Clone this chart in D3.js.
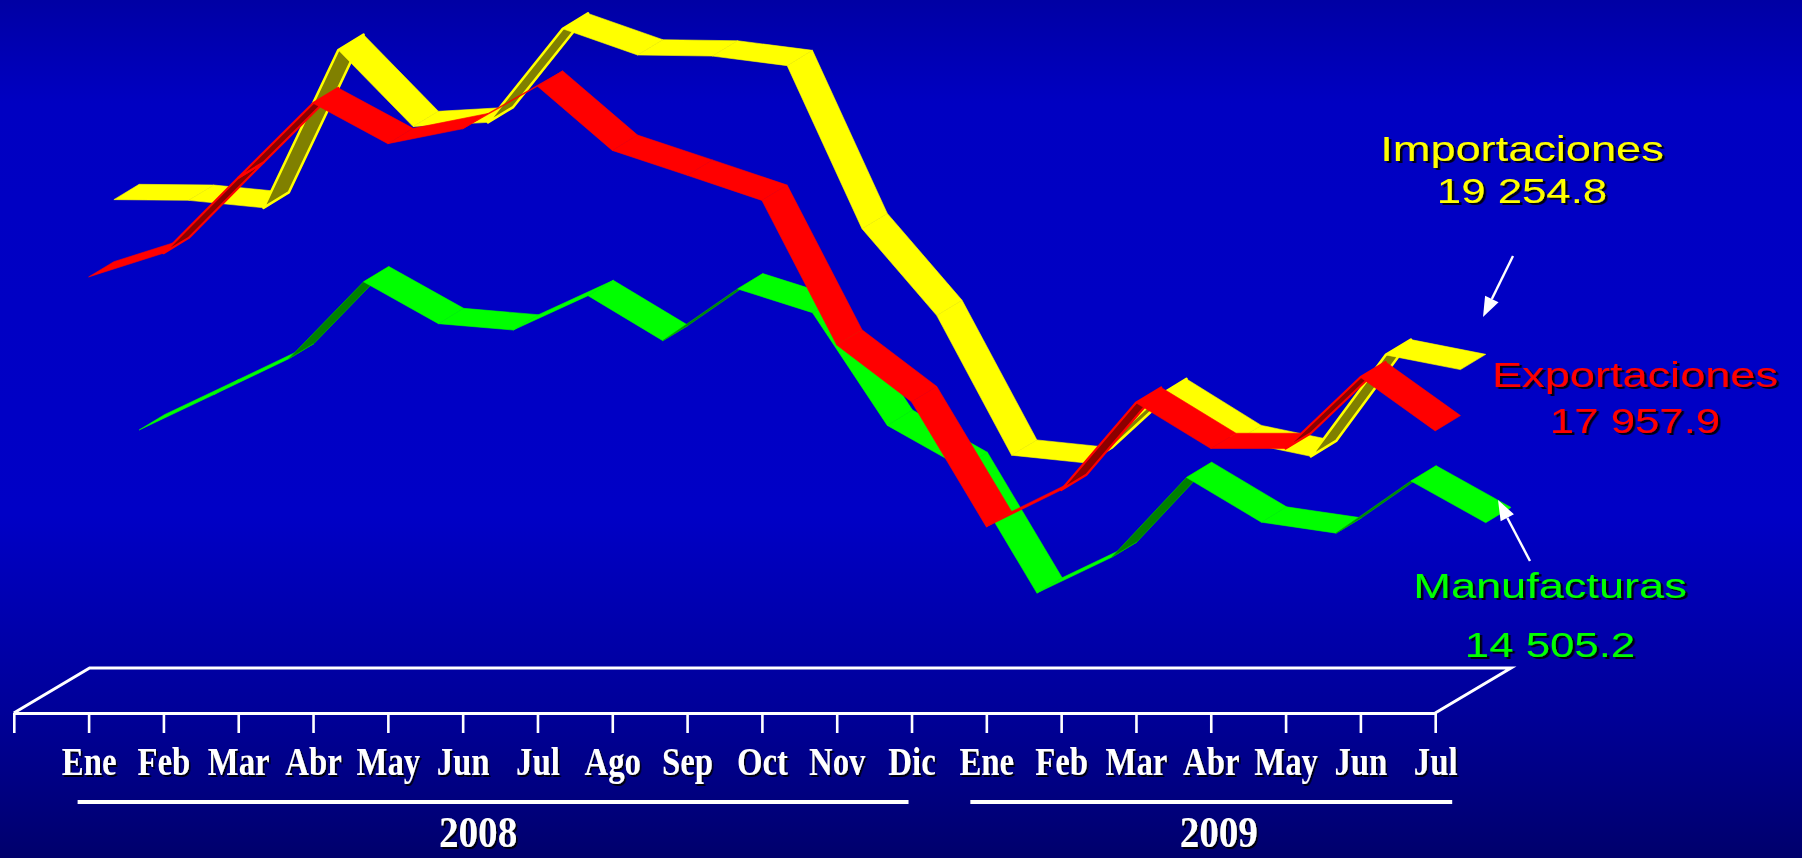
<!DOCTYPE html>
<html>
<head>
<meta charset="utf-8">
<script src="https://cdn.jsdelivr.net/npm/d3@7"></script>
<style>
html,body{margin:0;padding:0;overflow:hidden;background:#0000b8;}
svg{display:block;}
</style>
</head>
<body>
<svg id="chart" width="1802" height="858"></svg>
<script>
// ---------------- DATA ----------------
const months = ["Ene","Feb","Mar","Abr","May","Jun","Jul","Ago","Sep","Oct","Nov","Dic",
                "Ene","Feb","Mar","Abr","May","Jun","Jul"];
const years = ["2008","2009"];
const yearFirstMonth = [0, 12];
const yearLastMonth = [11, 18];

const exportaciones = [22300, 22970, 25100, 27200, 26060, 26480, 27680, 25870, 25170, 24460,
                       20380, 18780, 15250, 16290, 18750, 17460, 17460, 19470, 17957.9];
const importaciones = [24050, 24030, 23820, 28270, 26110, 26230, 28870, 28130, 28100, 27830,
                       23230, 20780, 16840, 16620, 18560, 17250, 16810, 19670, 19254.8];
const manufacturas  = [17120, 18120, 19130, 21300, 20120, 19940, 20910, 19640, 21100, 20430,
                       17250, 16060, 12520, 13530, 15780, 14520, 14210, 15680, 14505.2];

const seriesNames  = ["Manufacturas", "Importaciones", "Exportaciones"];
const seriesValues = [manufacturas, importaciones, exportaciones];
const seriesLabels = ["14 505.2", "19 254.8", "17 957.9"];
const valueDomain = [10000, 30000];

// ---------------- STYLE / LAYOUT ----------------
const W = 1802, H = 858;
const brightColors = ["#00ff00", "#ffff00", "#ff0000"];
const darkColors   = ["#008000", "#808000", "#8b0000"];
const darkStroke   = ["#00b000", "#ffff00", "#ff0000"];
const darkStrokeW  = [0.8, 2.6, 2.2];
const rowOf        = [2, 1, 0];          // depth row (0 = front)
const D = {x: 25.27, y: -15.3};          // depth offset of one row
const floorY = 713;

const svg = d3.select("#chart");
const defs = svg.append("defs");
const grad = defs.append("linearGradient").attr("id","bg")
  .attr("x1",0).attr("y1",0).attr("x2",0).attr("y2",1);
[[0,"#0000a4"],[0.12,"#0000c2"],[0.6,"#0000c6"],[0.83,"#000098"],[1,"#00006c"]]
  .forEach(([o,c]) => grad.append("stop").attr("offset",o).attr("stop-color",c));
const sh = defs.append("filter").attr("id","shadow").attr("x","-10%").attr("y","-10%")
  .attr("width","130%").attr("height","140%");
sh.append("feDropShadow").attr("dx",2).attr("dy",2).attr("stdDeviation",0.4)
  .attr("flood-color","#000000").attr("flood-opacity",0.9);

svg.append("rect").attr("width",W).attr("height",H).attr("fill","url(#bg)");

// ---------------- SCALES ----------------
const x = d3.scaleLinear().domain([-1, months.length - 1]).range([13.8, 1435.2]);
const y = d3.scaleLinear().domain(valueDomain).range([floorY, 4]);

// ---------------- FLOOR ----------------
const floor = svg.append("g").attr("stroke","#fff").attr("stroke-width",3).attr("fill","none");
const fx0 = x(-1), fx1 = x(months.length - 1);
const bd = {x: 3 * D.x, y: 3 * D.y + 0.9};
floor.append("path").attr("d",
  `M${fx0},${floorY}L${fx0 + bd.x},${floorY + bd.y}L${fx1 + bd.x},${floorY + bd.y}L${fx1},${floorY}`)
  .attr("stroke-linejoin","miter");

const axis = d3.axisBottom(x)
  .tickValues(d3.range(-1, months.length))
  .tickSize(20).tickSizeOuter(0)
  .tickFormat(d => d < 0 ? "" : months[d]);
const ax = svg.append("g").attr("transform", `translate(0,${floorY})`).call(axis);
ax.select(".domain").attr("stroke","#fff").attr("stroke-width",3.2);
ax.selectAll(".tick line").attr("stroke","#fff").attr("stroke-width",2.6);
ax.selectAll(".tick text")
  .attr("fill","#fff").attr("y",0).attr("dy",null)
  .attr("transform","translate(0,62) scale(0.8,1)")
  .style("font-family","'Liberation Serif','Times New Roman',serif")
  .style("font-weight","bold").style("font-size","41px")
  .attr("filter","url(#shadow)");

// year groups
const yearPad = [[-11, -3], [-16, 17]];
const yearLabelShift = [-22, 8];
years.forEach((yr, k) => {
  const a = x(yearFirstMonth[k]) + yearPad[k][0];
  const b = x(yearLastMonth[k]) + yearPad[k][1];
  svg.append("line").attr("x1",a).attr("x2",b).attr("y1",802).attr("y2",802)
    .attr("stroke","#fff").attr("stroke-width",4);
  const cx = (x(yearFirstMonth[k]) + x(yearLastMonth[k])) / 2 + yearLabelShift[k];
  svg.append("text").attr("transform",`translate(${cx},847) scale(0.87,1)`)
    .attr("text-anchor","middle").attr("fill","#fff")
    .style("font-family","'Liberation Serif','Times New Roman',serif")
    .style("font-weight","bold").style("font-size","45px")
    .attr("filter","url(#shadow)").text(yr);
});

// ---------------- RIBBONS ----------------
seriesValues.forEach((vals, s) => {
  const r = rowOf[s];
  const ox = r * D.x, oy = r * D.y;
  const pts = vals.map((v, i) => [x(i) + ox, y(v) + oy]);
  const g = svg.append("g").attr("class","series-" + s);
  for (let i = 0; i < pts.length - 1; i++) {
    const p = pts[i], q = pts[i + 1];
    const vx = q[0] - p[0], vy = q[1] - p[1];
    const cross = vx * D.y - vy * D.x;
    const dark = cross > 0;
    const poly = [p, q, [q[0] + D.x, q[1] + D.y], [p[0] + D.x, p[1] + D.y]];
    g.append("polygon")
      .attr("points", poly.map(d => d.join(",")).join(" "))
      .attr("fill", dark ? darkColors[s] : brightColors[s])
      .attr("stroke", dark ? darkStroke[s] : brightColors[s])
      .attr("stroke-width", dark ? darkStrokeW[s] : 0.6)
      .attr("stroke-linejoin","round");
  }
});

// ---------------- ANNOTATIONS ----------------
const annot = [
  {s: 1, cx: 1522, y1: 161, y2: 203, arrow: [[1513, 256], [1483, 317]]},
  {s: 2, cx: 1635, y1: 387, y2: 433, arrow: null},
  {s: 0, cx: 1550, y1: 598, y2: 657, arrow: [[1530, 561], [1498, 500]]}
];
annot.forEach(a => {
  [[seriesNames[a.s], a.y1, 1.29], [seriesLabels[a.s], a.y2, 1.25]].forEach(([t, by, sx]) => {
    svg.append("text").attr("transform", `translate(${a.cx},${by}) scale(${sx},1)`)
      .attr("text-anchor","middle").attr("fill", brightColors[a.s])
      .style("font-family","'Liberation Sans',Arial,sans-serif")
      .style("font-size","35px")
      .attr("filter","url(#shadow)").text(t);
  });
  if (a.arrow) {
    const [p0, p1] = a.arrow;
    const dx = p1[0] - p0[0], dy = p1[1] - p0[1];
    const len = Math.hypot(dx, dy), ux = dx / len, uy = dy / len;
    const hl = 20, hw = 7.5;
    const bx = p1[0] - ux * hl, by = p1[1] - uy * hl;
    svg.append("line").attr("x1",p0[0]).attr("y1",p0[1]).attr("x2",bx).attr("y2",by)
      .attr("stroke","#fff").attr("stroke-width",2.4);
    svg.append("polygon").attr("points",
      [[p1[0], p1[1]], [bx - uy * hw, by + ux * hw], [bx + uy * hw, by - ux * hw]]
        .map(d => d.join(",")).join(" "))
      .attr("fill","#fff");
  }
});
</script>
</body>
</html>
